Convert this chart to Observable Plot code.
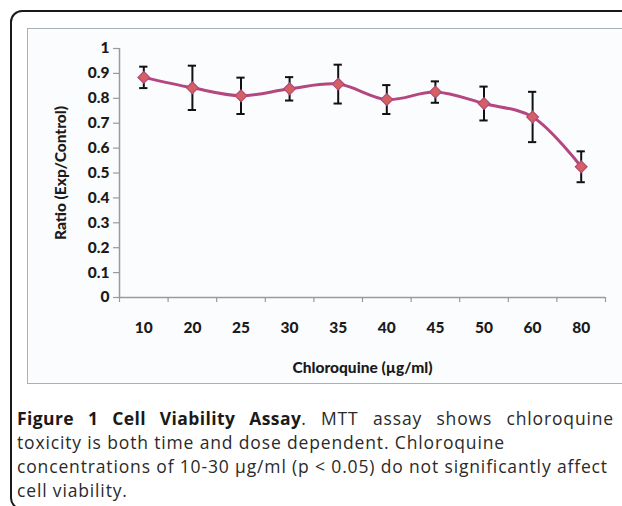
<!DOCTYPE html>
<html>
<head>
<meta charset="utf-8">
<script src="https://cdn.jsdelivr.net/npm/d3@7"></script>
<script src="https://cdn.jsdelivr.net/npm/@observablehq/plot@0.6"></script>
<style>
  html, body { margin: 0; padding: 0; background: #fff; }
  body { width: 622px; height: 506px; overflow: hidden; position: relative; }
  #frame { position: absolute; left: 10px; top: 10px; width: 640px; height: 500px;
           border: 2px solid #1a1a1a; border-radius: 12px; box-sizing: border-box; }
  #box { position: absolute; left: 27px; top: 28px; width: 596px; height: 356px;
         background: #fbfcfe; border: 1.5px solid #aab0b4; box-sizing: border-box; }
  #chart { position: absolute; left: 0; top: 0; }
  #caption { position: absolute; left: 17px; top: 406px; width: 597px; white-space: nowrap;
             font-family: "Open Sans", sans-serif; font-size: 17.5px; line-height: 24px;
             letter-spacing: 0.85px; color: #2a2a2a; }
  #caption .l1 { text-align: justify; text-align-last: justify; white-space: normal; }
  #caption b { color: #1a1a1a; letter-spacing: 0.4px; }
</style>
</head>
<body>
<div id="frame"></div>
<div id="box"><div id="chart"></div></div>
<div id="caption"></div>
<script>
const doses = ["10", "20", "25", "30", "35", "40", "45", "50", "60", "80"];
const ratio = [0.884, 0.842, 0.810, 0.838, 0.857, 0.795, 0.825, 0.779, 0.725, 0.525];
const errors = [0.043, 0.089, 0.073, 0.047, 0.078, 0.058, 0.043, 0.068, 0.101, 0.062];
const yTicks = [0, 0.1, 0.2, 0.3, 0.4, 0.5, 0.6, 0.7, 0.8, 0.9, 1];
const captionTitle = "Figure 1 Cell Viability Assay";
const captionLines = [
  ". MTT assay shows chloroquine",
  "toxicity is both time and dose dependent. Chloroquine",
  "concentrations of 10-30 µg/ml (p < 0.05) do not significantly affect",
  "cell viability."
];

const data = doses.map((d, i) => ({i, dose: d, x: i + 0.5, y: ratio[i], lo: ratio[i] - errors[i], hi: ratio[i] + errors[i]}));
const cap = 0.085;
const lineColor = "#b4477f";
const markFill = "#d5605f";
const font = "Lato, sans-serif";

const chart = Plot.plot({
  width: 594,
  height: 354,
  marginLeft: 91,
  marginRight: 17,
  marginTop: 19,
  marginBottom: 86,
  style: {fontFamily: font, fontSize: "15px", fontWeight: "900", color: "#1a1a1a", background: "transparent", overflow: "visible"},
  x: {type: "linear", domain: [0, doses.length]},
  y: {domain: [0, 1]},
  marks: [
    Plot.ruleY([0], {stroke: "#9a9a9a", strokeWidth: 1.5}),
    Plot.ruleX([0], {y1: 0, y2: 1, stroke: "#9a9a9a", strokeWidth: 1.5}),
    Plot.axisY({ticks: yTicks, tickSize: 6, tickPadding: 4, stroke: "#9a9a9a", strokeWidth: 1.2,
      tickFormat: d => String(+d.toFixed(1)), fontSize: 15.5,
      label: "Ratio (Exp/Control)", labelAnchor: "center", labelArrow: "none", labelOffset: 65}),
    Plot.axisX({ticks: d3.range(doses.length + 1), tickSize: 5, stroke: "#9a9a9a", strokeWidth: 1.2, tickFormat: () => "", label: null}),
    Plot.axisX({ticks: d3.range(doses.length).map(i => i + 0.5), tickSize: 0, tickPadding: 24,
      tickFormat: d => doses[Math.floor(d)], fontSize: 15.5,
      label: "Chloroquine (µg/ml)", labelAnchor: "center", labelArrow: "none", labelOffset: 75}),
    Plot.ruleX(data, {x: "x", y1: "lo", y2: "hi", stroke: "#111", strokeWidth: 2}),
    Plot.ruleY(data, {y: "hi", x1: d => d.x - cap, x2: d => d.x + cap, stroke: "#111", strokeWidth: 2}),
    Plot.ruleY(data, {y: "lo", x1: d => d.x - cap, x2: d => d.x + cap, stroke: "#111", strokeWidth: 2}),
    Plot.line(data, {x: "x", y: "y", curve: "catmull-rom", stroke: lineColor, strokeWidth: 3}),
    Plot.dot(data, {x: "x", y: "y", symbol: "diamond2", r: 5.3, fill: markFill, stroke: lineColor, strokeWidth: 1.2})
  ]
});
document.getElementById("chart").appendChild(chart);

const c = document.getElementById("caption");
const l1 = document.createElement("div");
l1.className = "l1";
const b = document.createElement("b");
b.textContent = captionTitle;
l1.appendChild(b);
l1.appendChild(document.createTextNode(captionLines[0]));
c.appendChild(l1);
captionLines.slice(1).forEach(t => {
  const d = document.createElement("div");
  d.textContent = t;
  c.appendChild(d);
});
</script>
</body>
</html>
